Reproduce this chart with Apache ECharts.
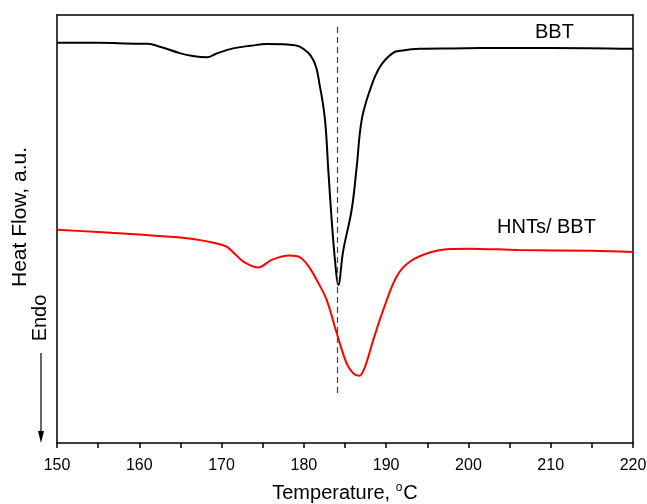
<!DOCTYPE html>
<html>
<head>
<meta charset="utf-8">
<script src="https://cdn.jsdelivr.net/npm/echarts@6/dist/echarts.min.js"></script>
<style>
  html, body { margin: 0; padding: 0; background: #fff; }
  #chart { width: 647px; height: 504px; }
</style>
</head>
<body>
<div id="chart"></div>
<script>
// temperatures (°C) and heat flow (arbitrary units, 0-100)
const bbtTemp = [150, 155, 160, 161, 162.5, 164.9, 166.5, 168.2, 169.4, 171.4, 173.5, 175.5, 178, 179.5,
  181.15, 181.96, 182.57, 182.97, 183.38, 183.78, 184.18, 184.79, 185.81, 186.42, 187.03, 188.04,
  189.25, 190.8, 192, 194.1, 198, 205, 210, 220];
const bbtFlow = [93.5, 93.5, 93.3, 93.3, 92.6, 91.1, 90.4, 90.1, 91.0, 92.2, 92.8, 93.2, 93.1, 92.6,
  89.5, 83.2, 75.5, 63.8, 52.1, 42.8, 36.9, 45.0, 54.5, 64.5, 75.5, 82.5,
  87.9, 91.1, 91.7, 92.1, 92.2, 92.3, 92.3, 92.1];

const hntTemp = [150, 155, 160, 165, 167.4, 169, 170.6, 171.6, 172.64, 174.47, 176.09, 178.3, 179.53,
  180.6, 181.56, 182.78, 183.99, 185.2, 186, 186.74, 187.43, 188.44, 189.65, 191.28, 192.9, 195.33,
  197.76, 200, 206, 215, 220];
const hntFlow = [49.8, 49.3, 48.7, 48.0, 47.4, 46.8, 45.9, 44.2, 42.4, 41.0, 42.8, 43.8, 43.4,
  41.2, 38.1, 33.4, 25.7, 18.6, 16.3, 15.7, 17.8, 24.1, 31.1, 38.9, 42.4, 44.5,
  45.3, 45.4, 45.1, 44.9, 44.6];

const peakTemp = 184.1;
const xTicks = [150, 160, 170, 180, 190, 200, 210, 220];

const chart = echarts.init(document.getElementById('chart'));
const font = 'Liberation Sans, Arial, sans-serif';
const frame = { show: true, onZero: false, lineStyle: { color: '#000', width: 1.5 } };

chart.setOption({
  animation: false,
  grid: { left: 57, right: 14, top: 15, bottom: 61, outerBoundsMode: 'none', containLabel: false },
  xAxis: [
    {
      type: 'value', min: 150, max: 220, interval: 5,
      axisLine: frame,
      axisTick: { show: true, length: 5, lineStyle: { color: '#000', width: 1.5 } },
      splitLine: { show: false },
      axisLabel: {
        color: '#000', fontSize: 16, fontFamily: font, margin: 15,
        formatter: v => (xTicks.includes(v) ? String(v) : '')
      },
      name: '{t|Temperature, }{s|o}{t|C}',
      nameLocation: 'middle', nameGap: 39,
      nameTextStyle: {
        rich: {
          t: { fontSize: 20, fontFamily: font, color: '#000' },
          s: { fontSize: 12, fontFamily: font, color: '#000', verticalAlign: 'top', padding: [0, 1, 10, 0] }
        }
      }
    },
    {
      type: 'value', min: 150, max: 220, position: 'top',
      axisLine: frame,
      axisTick: { show: false }, axisLabel: { show: false }, splitLine: { show: false }
    }
  ],
  yAxis: [
    {
      type: 'value', min: 0, max: 100,
      axisLine: frame,
      axisTick: { show: false }, axisLabel: { show: false }, splitLine: { show: false }
    },
    {
      type: 'value', min: 0, max: 100, position: 'right',
      axisLine: frame,
      axisTick: { show: false }, axisLabel: { show: false }, splitLine: { show: false }
    }
  ],
  series: [
    {
      name: 'BBT', type: 'line', showSymbol: false, smooth: 0.4,
      data: bbtTemp.map((t, i) => [t, bbtFlow[i]]),
      lineStyle: { color: '#000', width: 2 },
      markLine: {
        silent: true, symbol: ['none', 'none'], label: { show: false },
        lineStyle: { color: '#444', type: [6, 4], width: 1.2 },
        data: [[{ coord: [peakTemp, 97.2] }, { coord: [peakTemp, 11.2] }]]
      }
    },
    {
      name: 'HNTs/ BBT', type: 'line', showSymbol: false, smooth: 0.35,
      data: hntTemp.map((t, i) => [t, hntFlow[i]]),
      lineStyle: { color: '#ff0000', width: 2 }
    }
  ],
  graphic: [
    { type: 'text', left: 535, top: 22, style: { text: 'BBT', font: '20px ' + font, fill: '#000' } },
    { type: 'text', left: 497, top: 217, style: { text: 'HNTs/ BBT', font: '20px ' + font, fill: '#000' } },
    {
      type: 'text', x: 20, y: 217, rotation: Math.PI / 2,
      style: { text: 'Heat Flow, a.u.', font: '21px ' + font, fill: '#000', align: 'center', verticalAlign: 'middle' }
    },
    {
      type: 'text', x: 40, y: 318, rotation: Math.PI / 2,
      style: { text: 'Endo', font: '20px ' + font, fill: '#000', align: 'center', verticalAlign: 'middle' }
    },
    { type: 'line', shape: { x1: 41, y1: 353, x2: 41, y2: 435 }, style: { stroke: '#000', lineWidth: 1.2 } },
    { type: 'polygon', shape: { points: [[38, 431], [44, 431], [41, 443]] }, style: { fill: '#000' } }
  ]
});
</script>
</body>
</html>
